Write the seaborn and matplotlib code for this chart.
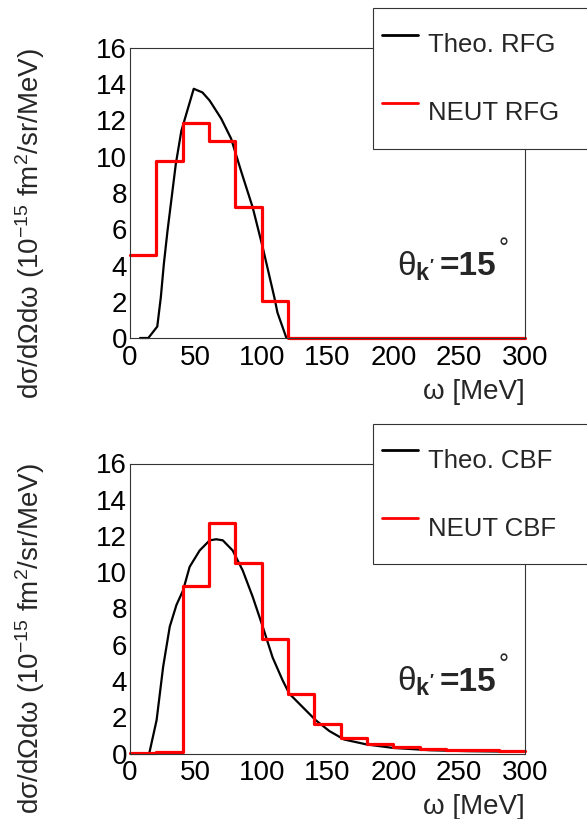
import pandas as pd
import matplotlib
matplotlib.use("Agg")
import matplotlib.pyplot as plt
import seaborn as sns

# theory curves (omega in MeV, cross section in 1e-15 fm^2/sr/MeV)
rfg_theo_w = [7.6, 13.9, 20.7, 23.4, 25.7, 28.5, 34.8, 39.0, 48.4, 55.0, 60.5,
              69.3, 76.8, 84.4, 93.2, 100.8, 109.6, 112.0, 118.8]
rfg_theo_xs = [0.0, 0.0, 0.63, 2.24, 4.08, 5.92, 9.6, 11.43, 13.75, 13.55, 13.1,
               12.1, 11.0, 9.2, 7.2, 5.0, 2.25, 1.4, 0.0]

cbf_theo_w = [14.6, 20.2, 25.2, 30.2, 35.3, 40.3, 45.3, 52.9, 60.5, 65.5, 70.5,
              78.0, 85.6, 93.2, 100.8, 108.3, 115.9, 121.0, 131.0, 141.0, 151.4,
              162.7, 179.7, 199.5, 228.0, 256.0, 300.0]
cbf_theo_xs = [0.0, 1.84, 4.8, 7.0, 8.2, 9.0, 10.3, 11.2, 11.76, 11.82, 11.76,
               11.2, 10.1, 8.64, 7.0, 5.3, 4.04, 3.3, 2.57, 1.84, 1.24,
               0.77, 0.5, 0.31, 0.18, 0.13, 0.09]

# NEUT histograms, 20 MeV bins from 0 to 300
bin_edges = list(range(0, 301, 20))
rfg_neut = [4.58, 9.74, 11.88, 10.88, 7.2, 2.02, 0, 0, 0, 0, 0, 0, 0, 0, 0]
cbf_neut = [0.02, 0.1, 9.25, 12.72, 10.5, 6.34, 3.27, 1.65, 0.88, 0.51,
            0.37, 0.24, 0.18, 0.18, 0.13]

sns.set_style("white")
plt.rcParams["font.family"] = ["Liberation Sans", "DejaVu Sans"]
plt.rcParams["mathtext.fontset"] = "custom"
plt.rcParams["mathtext.rm"] = "Liberation Sans"
plt.rcParams["mathtext.it"] = "Liberation Sans:italic"
plt.rcParams["mathtext.bf"] = "Liberation Sans:bold"

W, H = 587, 819
fig = plt.figure(figsize=(W / 100, H / 100), dpi=100)
FS = 20
LEG_FS = 18.5


def panel(top_px, theo_w, theo_xs, neut, tag):
    ax = fig.add_axes([130 / W, 1 - (top_px + 290) / H, 395 / W, 290 / H])
    hist_df = pd.DataFrame({
        "w": [(a + b) / 2 for a, b in zip(bin_edges[:-1], bin_edges[1:])],
        "xs": neut,
    })
    sns.lineplot(x=theo_w, y=theo_xs, color="black", lw=1.6, sort=False,
                 ax=ax, label="Theo. " + tag, clip_on=False)
    sns.histplot(data=hist_df, x="w", weights="xs", bins=bin_edges,
                 element="step", fill=False, color="red", lw=2.3, ax=ax,
                 label="NEUT " + tag, clip_on=False)
    ax.set_xlim(0, 300)
    ax.set_ylim(0, 16)
    ax.set_xticks(range(0, 301, 50))
    ax.set_yticks(range(0, 17, 2))
    ax.tick_params(axis="x", direction="in", length=5.8, width=0.8,
                   labelsize=FS, pad=5.0, colors="#333333", labelcolor="black")
    ax.tick_params(axis="y", direction="in", length=9.4, width=0.8,
                   labelsize=FS, pad=2.0, colors="#333333", labelcolor="black")
    for s in ax.spines.values():
        s.set_color("#333333")
        s.set_linewidth(0.8)

    ax.set_xlabel("ω [MeV]", fontsize=FS, loc="right")
    ax.xaxis.set_label_coords(1.0, -(379 - 338) / 290)
    ax.set_ylabel("dσ/dΩdω (10$^{-15}$ fm$^{2}$/sr/MeV)",
                  fontsize=FS, loc="top")
    ax.yaxis.set_label_coords(-100 / 395, 1.0)
    ax.yaxis.label.set_va("center")

    # angle annotation
    ax.text(203, 3.47, "θ" + r"$_{\mathbf{k'}}$", fontsize=24,
            ha="left", va="baseline")
    ax.text(235.5, 3.47, "=15", fontsize=24, fontweight="bold",
            ha="left", va="baseline")
    ax.text(280, 4.5, "°", fontsize=18, ha="left", va="baseline")

    leg = ax.legend(loc="upper left",
                    bbox_to_anchor=(373.3 / W, 1 - (top_px - 39.7) / H, 0.45, 0.0),
                    bbox_transform=fig.transFigure, mode="expand",
                    borderaxespad=0, borderpad=0.35, handleheight=2.88,
                    labelspacing=0.54, handlelength=1.4, handletextpad=0.38,
                    fontsize=LEG_FS, fancybox=False, framealpha=1,
                    edgecolor="#333333")
    leg.get_frame().set_linewidth(0.8)
    for line in leg.get_lines():
        line.set_linewidth(2.0)
    return ax


panel(48, rfg_theo_w, rfg_theo_xs, rfg_neut, "RFG")
panel(463.5, cbf_theo_w, cbf_theo_xs, cbf_neut, "CBF")

fig.savefig("out.png", dpi=100)
